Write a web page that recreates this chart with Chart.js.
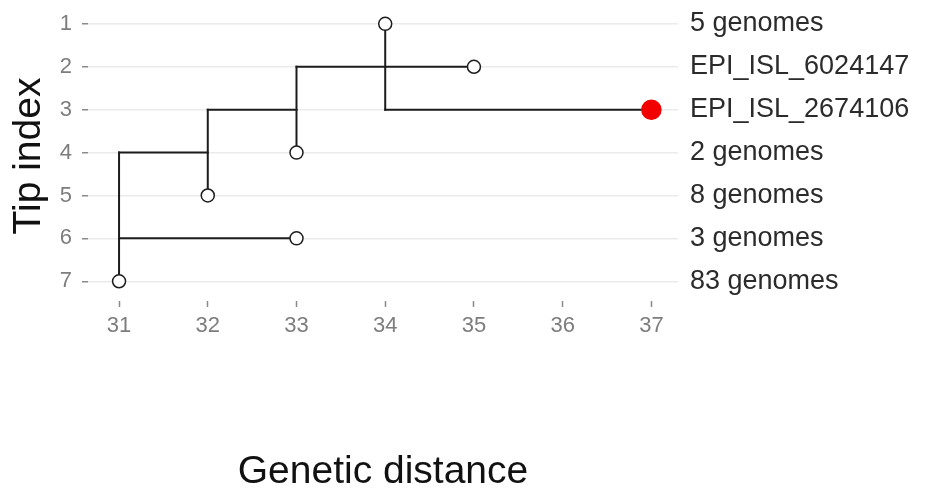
<!DOCTYPE html>
<html>
<head>
<meta charset="utf-8">
<script src="https://cdn.jsdelivr.net/npm/chart.js@4.4.1/dist/chart.umd.min.js"></script>
<style>
  html, body { margin: 0; padding: 0; background: #ffffff; }
  #wrap { width: 934px; height: 492px; position: relative; }
</style>
</head>
<body>
<div id="wrap"><canvas id="tree"></canvas></div>
<script>

// tips of the tree
const tipIndex = [1, 2, 3, 4, 5, 6, 7];
const tipDist = [34, 35, 37, 33, 32, 33, 31];
const tipLabels = [
  "5 genomes",
  "EPI_ISL_6024147",
  "EPI_ISL_2674106",
  "2 genomes",
  "8 genomes",
  "3 genomes",
  "83 genomes"
];
const highlightTip = 3;

// vertical branches: x, from tip index, to tip index
const vertX = [34, 33, 32, 31];
const vertFrom = [1, 2, 3, 4];
const vertTo = [3, 4, 5, 7];

// horizontal branches: y, from distance, to distance
const horizY = [3, 2, 3, 4, 6];
const horizFrom = [34, 33, 32, 31, 31];
const horizTo = [37, 35, 33, 32, 33];

const distTicks = [31, 32, 33, 34, 35, 36, 37];

const lineColor = "#1c1c1c";

const branchSets = [];

vertX.forEach((x, i) => {
  branchSets.push({
    data: [{ x: x, y: vertFrom[i] }, { x: x, y: vertTo[i] }],
    showLine: true,
    borderColor: lineColor,
    borderWidth: 2,
    borderCapStyle: "square",
    pointRadius: 0,
    order: 2
  });
});

horizY.forEach((y, i) => {
  branchSets.push({
    data: [{ x: horizFrom[i], y: y }, { x: horizTo[i], y: y }],
    showLine: true,
    borderColor: lineColor,
    borderWidth: 2,
    borderCapStyle: "square",
    pointRadius: 0,
    order: 2
  });
});

const tipSet = {
  data: tipIndex.map((t, i) => ({ x: tipDist[i], y: t })),
  showLine: false,
  pointRadius: tipIndex.map(t => t === highlightTip ? 9.5 : 6.5),
  pointBackgroundColor: tipIndex.map(t => t === highlightTip ? "#f20000" : "#ffffff"),
  pointBorderColor: tipIndex.map(t => t === highlightTip ? "#f20000" : "#1c1c1c"),
  pointBorderWidth: 1.5,
  order: 0
};

const tickFont = { family: "'Liberation Sans', Arial, sans-serif", size: 22 };
const titleFont = { family: "'Liberation Sans', Arial, sans-serif", size: 39, lineHeight: 1 };

// keep the vertical axes from reserving room for half-labels at the ends
function noEndPadding(s) {
  s.paddingTop = 0;
  s.paddingBottom = 0;
}

new Chart(document.getElementById("tree"), {
  type: "scatter",
  data: { datasets: [tipSet, ...branchSets] },
  options: {
    responsive: true,
    maintainAspectRatio: false,
    animation: false,
    layout: { padding: { top: 8, left: 0, right: 0, bottom: 0 } },
    plugins: {
      legend: { display: false },
      tooltip: { enabled: false }
    },
    scales: {
      x: {
        type: "linear",
        position: "bottom",
        min: 30.65,
        max: 37.3,
        afterBuildTicks: s => { s.ticks = distTicks.map(v => ({ value: v })); },
        afterFit: s => { s.height = 191; s.paddingLeft = 0; s.paddingRight = 0; },
        ticks: { color: "#7d7d7d", font: tickFont, padding: 6 },
        grid: {
          drawOnChartArea: false,
          drawTicks: true,
          tickLength: 6,
          tickColor: "#8a8a8a",
          tickWidth: 1.5
        },
        border: { display: false },
        title: {
          display: true,
          text: "Genetic distance",
          color: "#111111",
          font: titleFont,
          padding: { top: 0, bottom: 0 }
        }
      },
      y: {
        type: "linear",
        position: "left",
        reverse: true,
        min: 0.7,
        max: 7.46,
        afterBuildTicks: s => { s.ticks = tipIndex.map(v => ({ value: v })); },
        afterFit: s => { s.width = 88; noEndPadding(s); },
        ticks: { color: "#7d7d7d", font: tickFont, padding: 10 },
        grid: {
          color: "#ebebeb",
          lineWidth: 1.5,
          drawTicks: true,
          tickLength: 6,
          tickColor: "#8a8a8a",
          tickWidth: 1.5
        },
        border: { display: false },
        title: {
          display: true,
          text: "Tip index",
          color: "#111111",
          font: titleFont,
          padding: { top: 10, bottom: 0 }
        }
      },
      labels: {
        type: "linear",
        position: "right",
        reverse: true,
        min: 0.7,
        max: 7.46,
        afterBuildTicks: s => { s.ticks = tipIndex.map(v => ({ value: v })); },
        afterFit: s => { s.width = 256; noEndPadding(s); },
        ticks: {
          color: "#2b2b2b",
          font: { family: "'Liberation Sans', Arial, sans-serif", size: 27 },
          padding: 12,
          callback: v => tipLabels[tipIndex.indexOf(v)] || ""
        },
        grid: { display: false, drawTicks: false },
        border: { display: false }
      }
    }
  }
});

</script>
</body>
</html>
